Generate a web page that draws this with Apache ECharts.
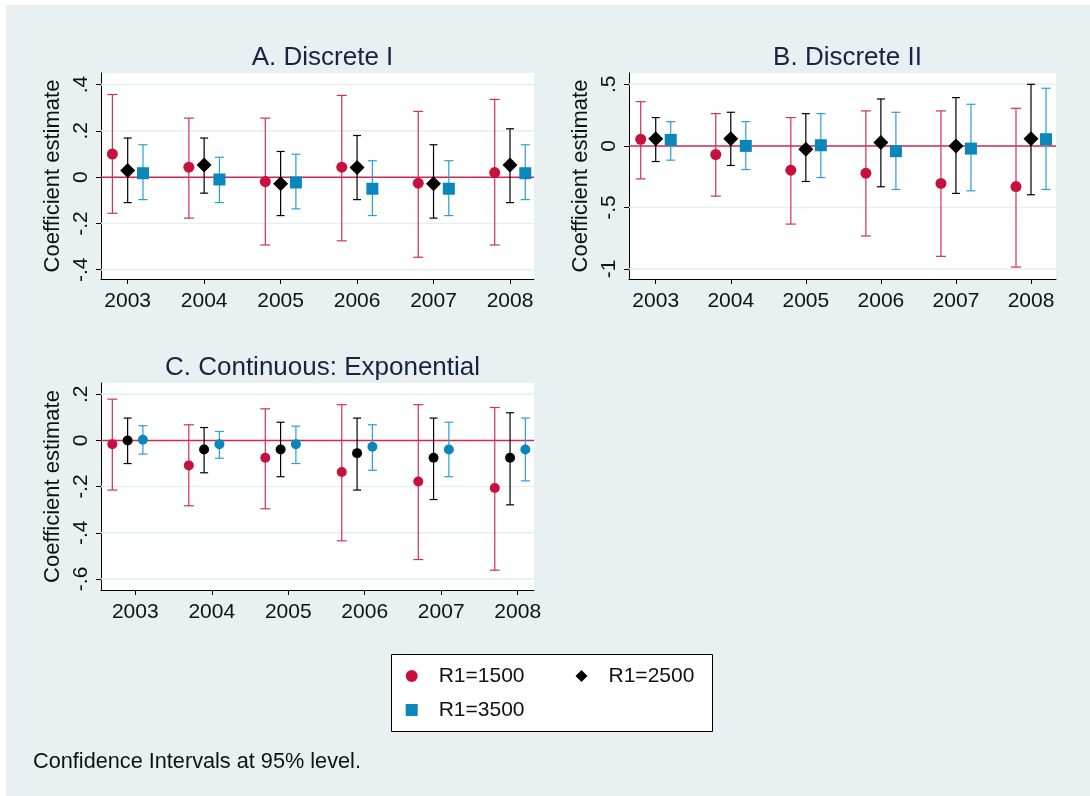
<!DOCTYPE html>
<html>
<head>
<meta charset="utf-8">
<script src="https://cdn.jsdelivr.net/npm/echarts@6/dist/echarts.min.js"></script>
<style>
html,body{margin:0;padding:0;background:#fff;}
#chart{width:1090px;height:796px;}
</style>
</head>
<body>
<div id="chart"></div>
<script>
// ---------------- data ----------------
const years = [2003, 2004, 2005, 2006, 2007, 2008];
const seriesNames = ['R1=1500', 'R1=2500', 'R1=3500'];

// Panel A. Discrete I
const aEst1500 = [0.100, 0.043, -0.019, 0.043, -0.026, 0.020];
const aLo1500  = [-0.156, -0.177, -0.293, -0.275, -0.346, -0.293];
const aHi1500  = [0.357, 0.255, 0.255, 0.353, 0.284, 0.336];
const aEst2500 = [0.029, 0.052, -0.029, 0.042, -0.029, 0.052];
const aLo2500  = [-0.110, -0.069, -0.166, -0.097, -0.177, -0.110];
const aHi2500  = [0.169, 0.169, 0.111, 0.180, 0.140, 0.209];
const aEst3500 = [0.017, -0.010, -0.023, -0.050, -0.050, 0.017];
const aLo3500  = [-0.097, -0.110, -0.137, -0.166, -0.166, -0.097];
const aHi3500  = [0.140, 0.086, 0.099, 0.071, 0.071, 0.140];

// Panel B. Discrete II
const bEst1500 = [0.054, -0.070, -0.197, -0.222, -0.305, -0.330];
const bLo1500  = [-0.268, -0.408, -0.635, -0.732, -0.897, -0.984];
const bHi1500  = [0.359, 0.262, 0.230, 0.284, 0.284, 0.305];
const bEst2500 = [0.059, 0.059, -0.027, 0.027, 0.000, 0.059];
const bLo2500  = [-0.127, -0.159, -0.289, -0.332, -0.386, -0.397];
const bHi2500  = [0.230, 0.273, 0.262, 0.381, 0.392, 0.500];
const bEst3500 = [0.049, 0.000, 0.005, -0.043, -0.022, 0.054];
const bLo3500  = [-0.116, -0.192, -0.257, -0.354, -0.365, -0.354];
const bHi3500  = [0.197, 0.197, 0.262, 0.273, 0.338, 0.468];

// Panel C. Continuous: Exponential
const cEst1500 = [-0.016, -0.108, -0.075, -0.137, -0.178, -0.206];
const cLo1500  = [-0.215, -0.283, -0.296, -0.435, -0.516, -0.562];
const cHi1500  = [0.179, 0.068, 0.137, 0.155, 0.155, 0.143];
const cEst2500 = [0.000, -0.039, -0.039, -0.055, -0.075, -0.075];
const cLo2500  = [-0.100, -0.140, -0.157, -0.215, -0.256, -0.279];
const cHi2500  = [0.097, 0.056, 0.079, 0.097, 0.097, 0.120];
const cEst3500 = [0.003, -0.016, -0.016, -0.027, -0.039, -0.039];
const cLo3500  = [-0.059, -0.077, -0.100, -0.129, -0.157, -0.175];
const cHi3500  = [0.064, 0.039, 0.062, 0.068, 0.079, 0.097];

// tick labels
const aTicks = [-0.4, -0.2, 0, 0.2, 0.4];
const bTicks = [-1, -0.5, 0, 0.5];
const cTicks = [-0.6, -0.4, -0.2, 0, 0.2];

const titles = ['A. Discrete I', 'B. Discrete II', 'C. Continuous: Exponential'];
const yTitle = 'Coefficient estimate';
const note = 'Confidence Intervals at 95% level.';

// ---------------- layout / style ----------------
const FONT = '"Liberation Sans", Arial, Helvetica, sans-serif';
const BG = '#e8f0f2';
const TXT = '#111111';
const TITLE_C = '#1b2140';
const markerColors = ['#c8103c', '#000000', '#0a87ba'];
const lineColors = ['#d0305a', '#000000', '#2a9fd4'];
const capW = [10, 8, 9];

const panels = [
  { grid: {left: 101, top: 73, width: 433, height: 206}, xr: [2002.651, 2008.314], yr: [-0.44, 0.45],
    ticks: aTicks, offs: [-0.2, 0, 0.2], symbols: ['circle', 'diamond', 'rect'], sizes: [11, 15, 12],
    est: [aEst1500, aEst2500, aEst3500], lo: [aLo1500, aLo2500, aLo3500], hi: [aHi1500, aHi2500, aHi3500] },
  { grid: {left: 629, top: 73, width: 427, height: 206}, xr: [2002.644, 2008.333], yr: [-1.081, 0.592],
    ticks: bTicks, offs: [-0.2, 0, 0.2], symbols: ['circle', 'diamond', 'rect'], sizes: [11, 15, 12],
    est: [bEst1500, bEst2500, bEst3500], lo: [bLo1500, bLo2500, bLo3500], hi: [bHi1500, bHi2500, bHi3500] },
  { grid: {left: 101, top: 383, width: 433, height: 207}, xr: [2002.552, 2008.213], yr: [-0.648, 0.249],
    ticks: cTicks, offs: [-0.3, -0.1, 0.1], symbols: ['circle', 'circle', 'circle'], sizes: [10, 10, 10],
    est: [cEst1500, cEst2500, cEst3500], lo: [cLo1500, cLo2500, cLo3500], hi: [cHi1500, cHi2500, cHi3500] }
];
const titleTops = [40, 40, 350];

function fmtTick(v) {
  if (Math.abs(v) < 1e-9) return '0';
  return String(+(+v).toFixed(2)).replace(/^(-?)0\./, '$1.');
}

function hlineRender(color, width) {
  return function (params, api) {
    const cs = params.coordSys;
    const y = api.coord([api.value(0), api.value(1)])[1];
    return { type: 'line', shape: {x1: cs.x, y1: y, x2: cs.x + cs.width, y2: y},
             style: {stroke: color, lineWidth: width} };
  };
}
function errRender(color, cw) {
  return function (params, api) {
    const x = api.value(0);
    const p1 = api.coord([x, api.value(1)]);
    const p2 = api.coord([x, api.value(2)]);
    const st = {stroke: color, lineWidth: 1.2};
    const h = cw / 2;
    return { type: 'group', children: [
      {type: 'line', shape: {x1: p1[0], y1: p1[1], x2: p2[0], y2: p2[1]}, style: st},
      {type: 'line', shape: {x1: p1[0] - h, y1: p1[1], x2: p1[0] + h, y2: p1[1]}, style: st},
      {type: 'line', shape: {x1: p2[0] - h, y1: p2[1], x2: p2[0] + h, y2: p2[1]}, style: st}
    ]};
  };
}

const grids = [], xAxes = [], yAxes = [], series = [], titleOpts = [];
panels.forEach((p, i) => {
  grids.push(Object.assign({show: true, backgroundColor: '#ffffff', borderWidth: 0}, p.grid));
  titleOpts.push({
    text: titles[i], left: p.grid.left + p.grid.width / 2, top: titleTops[i], textAlign: 'center',
    textStyle: {fontFamily: FONT, fontSize: 26, fontWeight: 'normal', color: TITLE_C}
  });
  xAxes.push({
    gridIndex: i, type: 'value', min: p.xr[0], max: p.xr[1],
    axisLine: {show: true, onZero: false, lineStyle: {color: '#000', width: 1}},
    axisTick: {show: true, customValues: years, length: 5, lineStyle: {color: '#000', width: 1}},
    axisLabel: {customValues: years, formatter: v => String(Math.round(v)), fontFamily: FONT, fontSize: 21, color: TXT, margin: 12},
    splitLine: {show: false}
  });
  yAxes.push({
    gridIndex: i, type: 'value', min: p.yr[0], max: p.yr[1],
    name: yTitle, nameLocation: 'middle', nameGap: 37, nameRotate: 90,
    nameTextStyle: {fontFamily: FONT, fontSize: 22, color: TXT},
    axisLine: {show: true, onZero: false, lineStyle: {color: '#000', width: 1}},
    axisTick: {show: true, customValues: p.ticks, length: 5, lineStyle: {color: '#000', width: 1}},
    axisLabel: {customValues: p.ticks, rotate: 90, formatter: fmtTick, fontFamily: FONT, fontSize: 21, color: TXT, margin: 9},
    splitLine: {show: false}
  });
  // gridlines
  series.push({
    type: 'custom', name: 'grid' + i, xAxisIndex: i, yAxisIndex: i, z: 1, silent: true,
    renderItem: hlineRender('#e6eef1', 1.5),
    encode: {x: 0, y: 1},
    data: p.ticks.filter(t => t !== 0).map(t => [years[0], t])
  });
  // zero reference line
  series.push({
    type: 'custom', name: 'zero' + i, xAxisIndex: i, yAxisIndex: i, z: 1, silent: true,
    renderItem: hlineRender('#cc2a52', 1.5),
    encode: {x: 0, y: 1},
    data: [[years[0], 0]]
  });
  for (let g = 0; g < 3; g++) {
    series.push({
      type: 'custom', name: 'ci' + i + '_' + g, xAxisIndex: i, yAxisIndex: i, z: 2, silent: true,
      renderItem: errRender(lineColors[g], capW[g]),
      encode: {x: 0, y: [1, 2]},
      data: years.map((yr, k) => [yr + p.offs[g], p.lo[g][k], p.hi[g][k]])
    });
  }
  for (let g = 0; g < 3; g++) {
    series.push({
      type: 'scatter', name: seriesNames[g], xAxisIndex: i, yAxisIndex: i, z: 3,
      symbol: p.symbols[g], symbolSize: p.sizes[g],
      itemStyle: {color: markerColors[g], opacity: 1},
      data: years.map((yr, k) => [yr + p.offs[g], p.est[g][k]])
    });
  }
});

const legendText = {fontFamily: FONT, fontSize: 21, color: TXT, padding: [0, 0, 0, 16]};
const option = {
  animation: false,
  backgroundColor: BG,
  title: titleOpts,
  grid: grids,
  xAxis: xAxes,
  yAxis: yAxes,
  legend: [
    { data: [{name: seriesNames[0], icon: 'circle'}, {name: seriesNames[1], icon: 'diamond'}],
      left: 405.7, top: 665.5, padding: 0, orient: 'horizontal', itemWidth: 12, itemHeight: 12, itemGap: 51,
      selectedMode: false, textStyle: legendText, z: 10 },
    { data: [{name: seriesNames[2], icon: 'rect'}],
      left: 405.7, top: 699.5, padding: 0, orient: 'horizontal', itemWidth: 12, itemHeight: 12,
      selectedMode: false, textStyle: legendText, z: 10 }
  ],
  graphic: [
    {type: 'rect', z: 0, shape: {x: 0, y: 0, width: 1090, height: 5}, style: {fill: '#ffffff'}},
    {type: 'rect', z: 0, shape: {x: 0, y: 0, width: 6, height: 796}, style: {fill: '#ffffff'}},
    {type: 'rect', z: 1, shape: {x: 391.5, y: 654.5, width: 321, height: 77}, style: {fill: '#ffffff', stroke: '#000', lineWidth: 1}},
    {type: 'text', z: 1, x: 33, y: 762, style: {text: note, font: '21.7px ' + FONT, fill: TXT, verticalAlign: 'middle'}}
  ],
  series: series
};

const chart = echarts.init(document.getElementById('chart'), null, {renderer: 'canvas'});
chart.setOption(option);
</script>
</body>
</html>
